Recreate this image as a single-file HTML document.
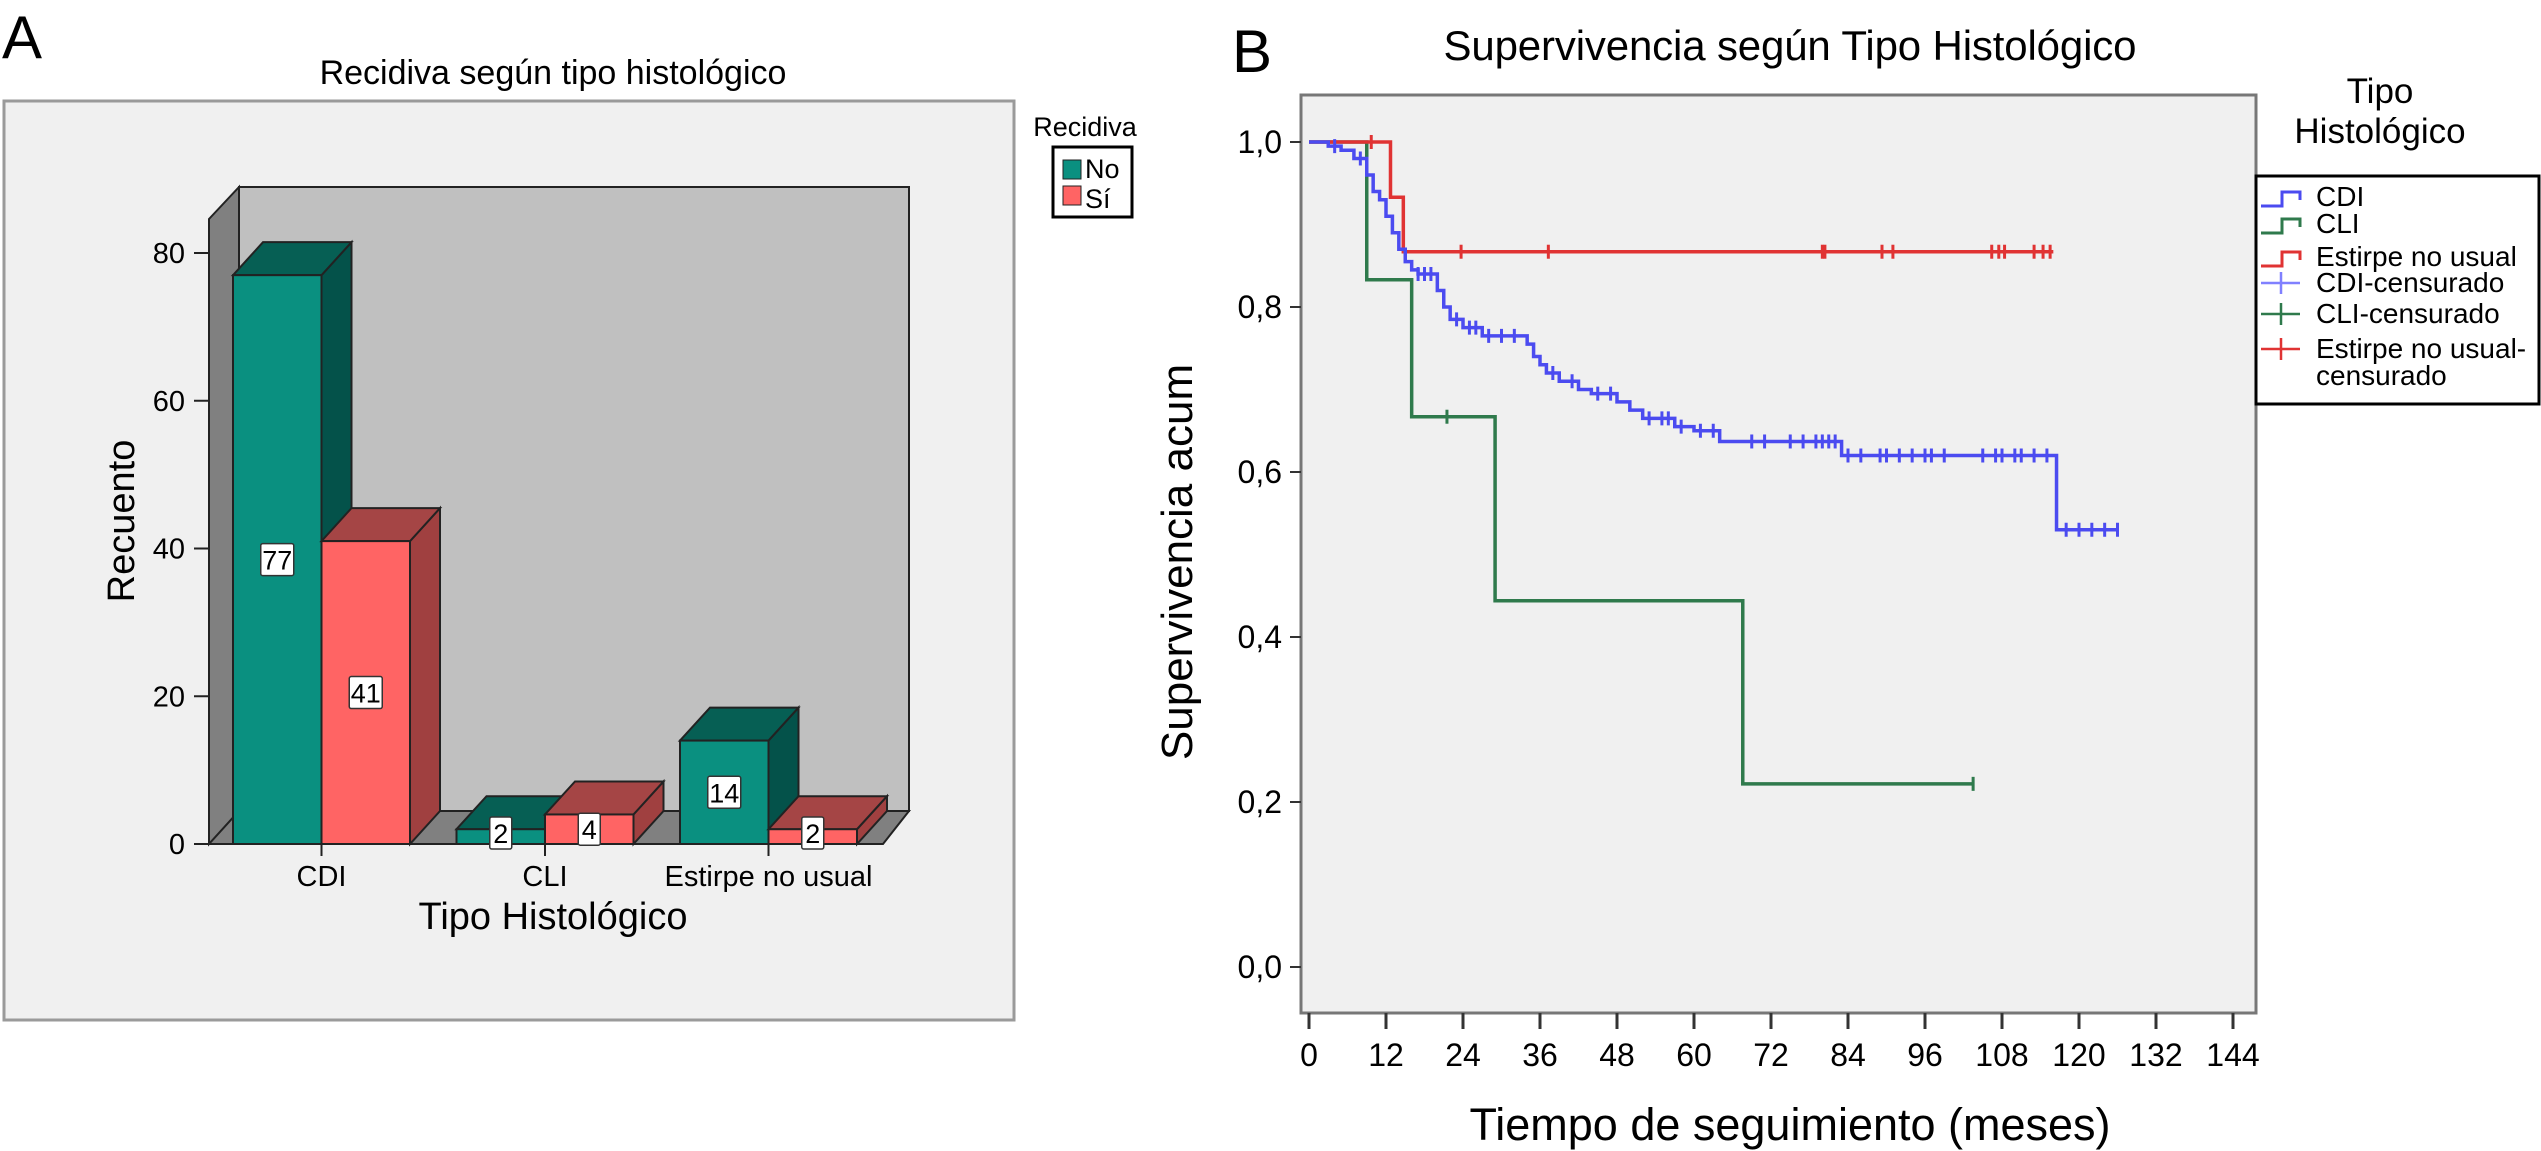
<!DOCTYPE html>
<html><head><meta charset="utf-8"><style>
html,body{margin:0;padding:0;background:#fff}
svg{display:block;font-family:"Liberation Sans",Arial,sans-serif}
</style></head><body>
<svg id="s" width="2541" height="1151" viewBox="0 0 2541 1151" xmlns="http://www.w3.org/2000/svg">
<g id="left">
<text x="2" y="58" font-size="60">A</text>
<text x="553" y="84" font-size="34" text-anchor="middle">Recidiva según tipo histológico</text>
<rect x="4" y="101" width="1010" height="919" fill="#f0f0f0" stroke="#9a9a9a" stroke-width="3"/>
<polygon points="239,187 909,187 909,811 239,811" fill="#c0c0c0" stroke="#222" stroke-width="2"/>
<polygon points="209,219 239,187 239,811 209,844" fill="#808080" stroke="#222" stroke-width="2"/>
<polygon points="209,844 239,811 909,811 883,844" fill="#808080" stroke="#222" stroke-width="2"/>
<line x1="209" y1="219" x2="209" y2="844" stroke="#222" stroke-width="2"/>
<g id="bars"></g>
<g id="lyt"></g>
<text x="553" y="929" font-size="38" text-anchor="middle">Tipo Histológico</text>
<text transform="translate(134,521) rotate(-90)" font-size="38" text-anchor="middle">Recuento</text>
<text x="1085" y="136" font-size="27" text-anchor="middle">Recidiva</text>
<rect x="1053" y="147" width="79" height="70" fill="#fff" stroke="#000" stroke-width="3"/>
<rect x="1063" y="160" width="18" height="19" fill="#0a9080" stroke="#222"/>
<text x="1085" y="178" font-size="27">No</text>
<rect x="1063" y="186" width="18" height="19" fill="#ff6464" stroke="#222"/>
<text x="1085" y="208" font-size="27">Sí</text>
</g>
<g id="right">
<text x="1232" y="72" font-size="60">B</text>
<text x="1790" y="60" font-size="42" text-anchor="middle" textLength="693">Supervivencia según Tipo Histológico</text>
<rect x="1301" y="95" width="955" height="918" fill="#f0f0f0" stroke="#777" stroke-width="3"/>
<g id="kaxes"></g>
<g id="curves"></g>
<text x="1790" y="1140" font-size="45" text-anchor="middle">Tiempo de seguimiento (meses)</text>
<text transform="translate(1192,562) rotate(-90)" font-size="44" text-anchor="middle">Supervivencia acum</text>
<text x="2380" y="103" font-size="35" text-anchor="middle">Tipo</text>
<text x="2380" y="143" font-size="35" text-anchor="middle">Histológico</text>
<rect x="2256" y="176" width="283" height="228" fill="#fff" stroke="#000" stroke-width="3"/>
<g id="klegend"></g>
</g>
</svg>
<script>
const NS='http://www.w3.org/2000/svg';
const categories=['CDI','CLI','Estirpe no usual'];
const seriesNo=[77,2,14];
const seriesSi=[41,4,2];
const yTicksA=[0,20,40,60,80];

const kmXTicks=[0,12,24,36,48,60,72,84,96,108,120,132,144];
const kmYTicks=[0,0.2,0.4,0.6,0.8,1.0];
const cdiTimes=[0,3,5,7,9,10,11,12,13,14,15,16,17,20,21,22,24,27,34,35,36,37,39,42,44,48,50,52,57,60,64,83,116.5,126];
const cdiSurv=[1,0.995,0.99,0.98,0.96,0.94,0.93,0.91,0.89,0.87,0.855,0.845,0.84,0.82,0.80,0.785,0.775,0.765,0.755,0.74,0.73,0.72,0.71,0.70,0.695,0.685,0.675,0.665,0.655,0.65,0.637,0.62,0.53,0.53];
const cdiCens=[4,8,17,18,19,23,25,26,28,30,32,38,41,45,47,53,55,56,58,61,63,69,71,75,77,79,80,81,82,84,86,89,90,92,94,96,97,99,105,107,108,110,111,113,115,118,120,122,124,126];
const cliTimes=[0,9,16,29,67.6,103.5];
const cliSurv=[1,0.833,0.667,0.444,0.222,0.222];
const cliCens=[21.5,103.5];
const estTimes=[0,12.7,14.7,116];
const estSurv=[1,0.933,0.867,0.867];
const estCens=[9.7,23.7,37.3,80,80.4,89.3,91,106.4,107.5,108.4,113,114.4,115.5];

function mk(tag,attrs,parent){const e=document.createElementNS(NS,tag);for(const k in attrs)e.setAttribute(k,attrs[k]);parent.appendChild(e);return e;}

const yA=v=>844-v*591/80;
const bw=88.5, DX=30, DY=-33;
const catX=i=>233+i*223.5;
const bars=document.getElementById('bars');
const lyt=document.getElementById('lyt');
yTicksA.forEach(t=>{
  const l=mk('line',{x1:194,x2:209,y1:yA(t),y2:yA(t),stroke:'#222','stroke-width':2},lyt);
  
  
  const tx=mk('text',{x:185,y:yA(t)+10,'font-size':29,'text-anchor':'end'},lyt);
  tx.textContent=t;
  
  
});
function bar3d(x,v,front,top,side,name){
  const g=mk('g',{},bars);
  
  
  const y0=yA(0),y1=yA(v);
  mk('polygon',{points:`${x+bw},${y1} ${x+bw+DX},${y1+DY} ${x+bw+DX},${y0+DY} ${x+bw},${y0}`,fill:side,stroke:'#222','stroke-width':2},g);
  mk('polygon',{points:`${x},${y1} ${x+DX},${y1+DY} ${x+bw+DX},${y1+DY} ${x+bw},${y1}`,fill:top,stroke:'#222','stroke-width':2},g);
  mk('rect',{x:x,y:y1,width:bw,height:y0-y1,fill:front,stroke:'#222','stroke-width':2},g);
}
categories.forEach((c,i)=>{
  bar3d(catX(i),seriesNo[i],'#0a9080','#065f54','#04524a','bar-'+c.replace(/ /g,'-').toLowerCase()+'-no');
  bar3d(catX(i)+bw,seriesSi[i],'#ff6464','#a54545','#a04040','bar-'+c.replace(/ /g,'-').toLowerCase()+'-si');
});
const vals=[];
categories.forEach((c,i)=>{vals.push([catX(i)+bw/2,seriesNo[i]]);vals.push([catX(i)+bw*1.5,seriesSi[i]]);});
vals.forEach(([cx,v])=>{
  const cy=Math.min(yA(v/2),833);
  const g=mk('g',{},bars);
  
  
  const w=String(v).length>1?33:22;
  mk('rect',{x:cx-w/2,y:cy-16,width:w,height:32,fill:'#fff',stroke:'#333','stroke-width':1.5,rx:2},g);
  const t=mk('text',{x:cx,y:cy+10,'font-size':27,'text-anchor':'middle'},g);
  t.textContent=v;
});
categories.forEach((c,i)=>{
  const t=mk('text',{x:catX(i)+bw,y:886,'font-size':29,'text-anchor':'middle'},lyt);
  t.textContent=c;
  
  
  const l=mk('line',{x1:catX(i)+bw,x2:catX(i)+bw,y1:844,y2:856,stroke:'#222','stroke-width':2},lyt);
  
  
});

const xK=t=>1309+t*924/144;
const yK=s=>967-s*825;
const ka=document.getElementById('kaxes');
kmYTicks.forEach(t=>{
  const l=mk('line',{x1:1290,x2:1301,y1:yK(t),y2:yK(t),stroke:'#333','stroke-width':2},ka);
  
  
  const tx=mk('text',{x:1282,y:yK(t)+11,'font-size':32,'text-anchor':'end'},ka);
  tx.textContent=t.toFixed(1).replace('.',',');
  
  
});
kmXTicks.forEach(t=>{
  const l=mk('line',{x1:xK(t),x2:xK(t),y1:1013,y2:1029,stroke:'#333','stroke-width':3},ka);
  
  
  const tx=mk('text',{x:xK(t),y:1066,'font-size':32,'text-anchor':'middle'},ka);
  tx.textContent=t;
  
  
});
function stepVal(times,surv,t){let v=surv[0];for(let i=0;i<times.length;i++){if(times[i]<=t)v=surv[i];}return v;}
const cv=document.getElementById('curves');
function curve(times,surv,cens,color,name){
  let d=`M${xK(times[0])},${yK(surv[0])}`;
  for(let i=1;i<times.length;i++){d+=` H${xK(times[i])} V${yK(surv[i])}`;}
  const p=mk('path',{d:d,fill:'none',stroke:color,'stroke-width':3.5},cv);
  
  
  cens.forEach(c=>{
    const y=yK(stepVal(times,surv,c));
    const l=mk('line',{x1:xK(c),x2:xK(c),y1:y-7,y2:y+7,stroke:color,'stroke-width':3},cv);
    
    
  });
}
curve(cliTimes,cliSurv,cliCens,'#2f7a4c','cli');
curve(estTimes,estSurv,estCens,'#e03333','estirpe');
curve(cdiTimes,cdiSurv,cdiCens,'#4b4bf0','cdi');

const lg=document.getElementById('klegend');
const legendItems=[['CDI','#4b4bf0',206,'step'],['CLI','#2f7a4c',233,'step'],['Estirpe no usual','#e03333',266,'step'],['CDI-censurado','#8080ff',292,'cens'],['CLI-censurado','#2f7a4c',323,'cens'],['Estirpe no usual-','#e03333',358,'cens']];
legendItems.forEach(([lab,col,y,kind])=>{
  const g=mk('g',{},lg);
  
  
  if(kind==='step'){
    mk('path',{d:`M2261,${y} H2282 V${y-14} H2300 V${y-6}`,fill:'none',stroke:col,'stroke-width':3},g);
  }else{
    mk('path',{d:`M2261,${y-9} H2300 M2281,${y-20} V${y+2}`,fill:'none',stroke:col,'stroke-width':2.5},g);
  }
  const t=mk('text',{x:2316,y:y,'font-size':28},g);
  t.textContent=lab;
});
const t2=mk('text',{x:2316,y:385,'font-size':28},lg);
t2.textContent='censurado';


</script>
</body></html>
